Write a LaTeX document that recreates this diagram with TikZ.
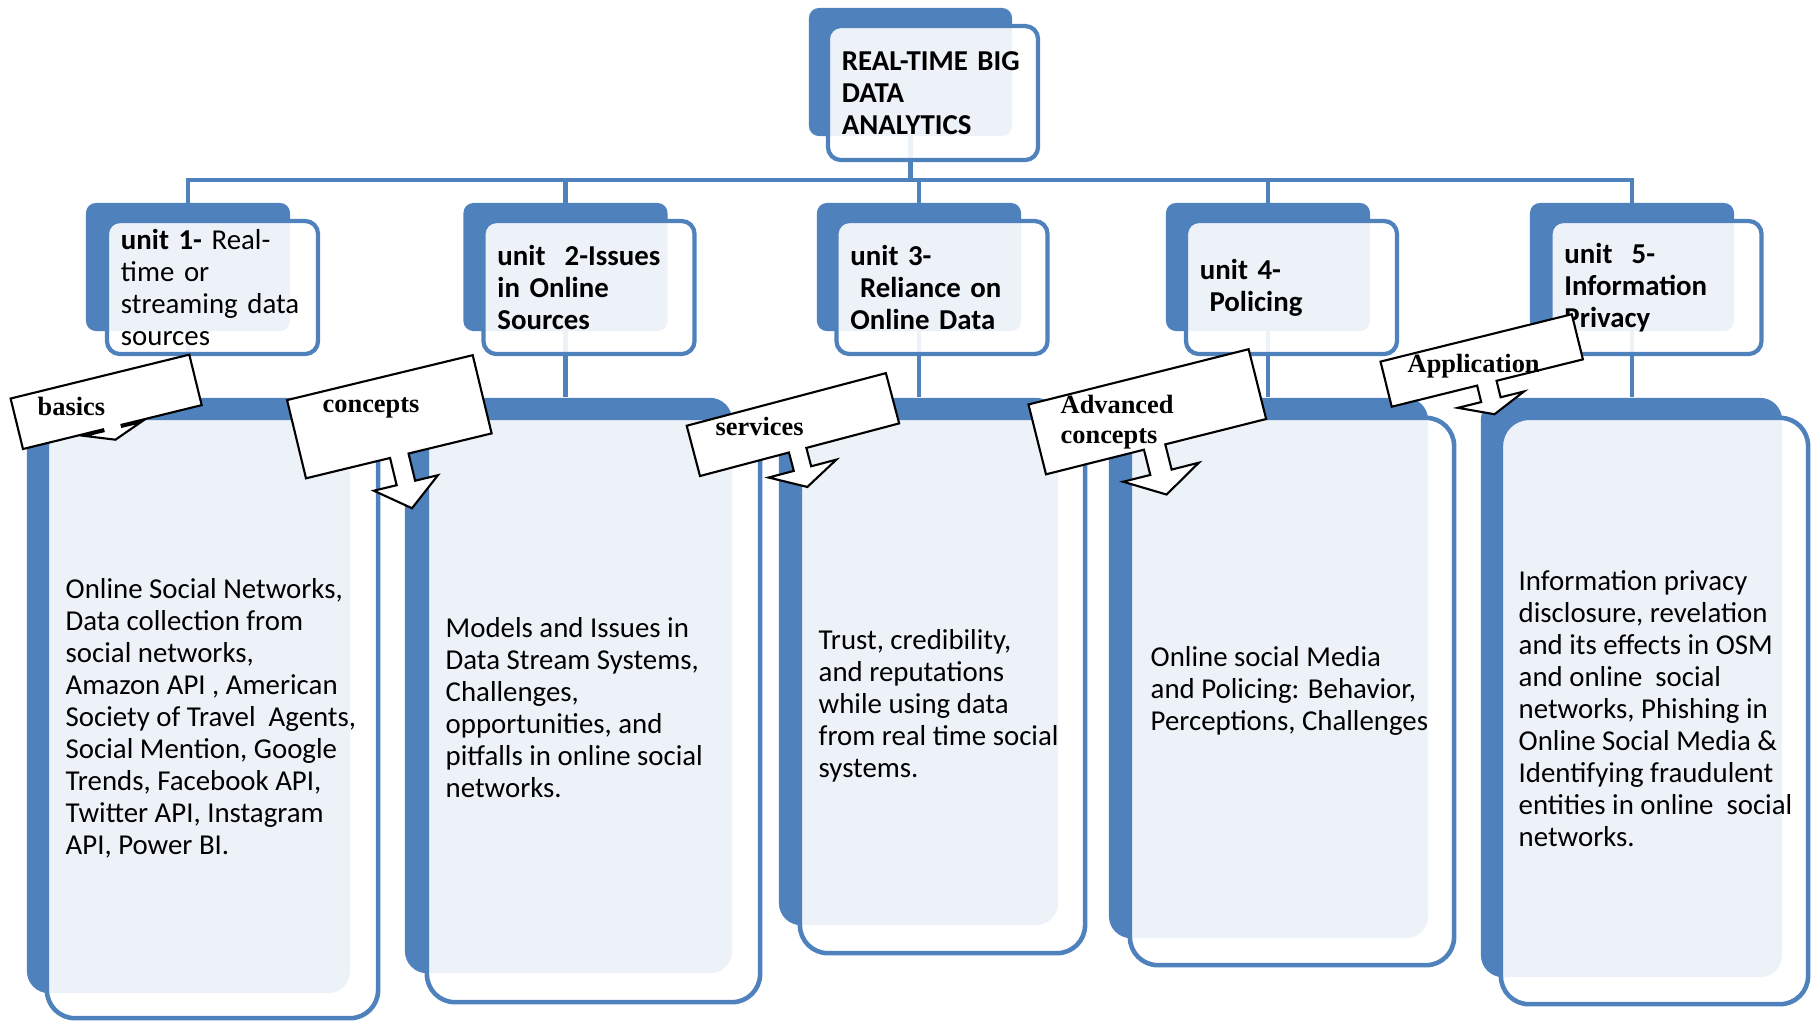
\documentclass[tikz,border=0pt]{standalone}
\usepackage{fontspec}
\setmainfont{Carlito}
\newfontfamily\labelfont{Liberation Serif}
\usetikzlibrary{backgrounds}

\definecolor{unitblue}{RGB}{79,129,189}
\newcommand{\unitfont}{\fontsize{8.2}{9.1}\selectfont}
\newcommand{\calloutfont}{\labelfont\bfseries\fontsize{7.5}{8.7}\selectfont}

% callout: placement, width, height, pointer x, shaft depth, head length, shaft width, head half width
\newcommand{\callbox}[8]{%
  \begin{scope}[#1]
    \draw[calloutline] (0,0) -- (0,-#3) -- (#2,-#3) -- (#2,0) -- ({#4+#7/2},0) -- ({#4+#7/2},#5)
      -- ({#4+#8},#5) -- (#4,{#5+#6}) -- ({#4-#8},#5) -- ({#4-#7/2},#5) -- ({#4-#7/2},0) -- cycle;
  \end{scope}}

\begin{document}
\begin{tikzpicture}[x=0.01cm, y=-0.01cm,
    link/.style={draw=unitblue, line width=1.2pt},
    backsmall/.style={fill=unitblue, rounded corners=0.1cm, inner sep=0pt},
    frontsmall/.style={draw=unitblue, line width=1.2pt, fill=white, fill opacity=0.9, text opacity=1,
      rounded corners=0.13cm, inner xsep=0.14cm, inner ysep=0pt, align=left, font=\unitfont\bfseries},
    backbig/.style={fill=unitblue, rounded corners=0.22cm, inner sep=0pt},
    frontbig/.style={draw=unitblue, line width=1.3pt, fill=white, fill opacity=0.9, rounded corners=0.28cm, inner sep=0pt},
    bodytext/.style={anchor=west, inner sep=0pt, align=left, font=\unitfont},
    calloutline/.style={draw=black, line width=0.6pt, fill=white},
    callouttext/.style={inner sep=0pt, font=\calloutfont}]

    \useasboundingbox (0,0) rectangle (1820,1020);

    % TITLE
    \node[backsmall, minimum width=2.03cm, minimum height=1.28cm] (titleback) at (910.5,72) {};
    \node[frontsmall, text width=1.82cm, minimum height=1.34cm] (title) at (933,93) {REAL-TIME BIG\\DATA\\ANALYTICS};

    % UNITS
    \node[backsmall, minimum width=2.04cm, minimum height=1.28cm] (unit1back) at (188,267) {};
    \node[frontsmall, text width=1.83cm, minimum height=1.33cm, font=\unitfont] (unit1) at (212.5,287.5) {\textbf{unit 1-} Real-\\time or\\streaming data\\sources};

    \node[backsmall, minimum width=2.04cm, minimum height=1.28cm] (unit2back) at (565.5,267) {};
    \node[frontsmall, text width=1.83cm, minimum height=1.33cm] (unit2) at (589,287.5) {unit\ \ 2-Issues\\in Online\\Sources};

    \node[backsmall, minimum width=2.04cm, minimum height=1.28cm] (unit3back) at (919,267) {};
    \node[frontsmall, text width=1.83cm, minimum height=1.33cm] (unit3) at (942,287.5) {unit 3-\\\ Reliance on\\Online Data};

    \node[backsmall, minimum width=2.04cm, minimum height=1.28cm] (unit4back) at (1268,267) {};
    \node[frontsmall, text width=1.83cm, minimum height=1.33cm] (unit4) at (1291.5,287.5) {unit 4-\\\ Policing};

    \node[backsmall, minimum width=2.04cm, minimum height=1.28cm] (unit5back) at (1632,267) {};
    \node[frontsmall, text width=1.83cm, minimum height=1.33cm] (unit5) at (1656,287.5) {unit\ \ 5-\\Information\\Privacy};

    % TOPICS
    \node[backbig, minimum width=3.23cm, minimum height=5.95cm] (topic1back) at (188.5,695.5) {};
    \node[frontbig, minimum width=3.31cm, minimum height=6.00cm] (topic1) at (212.5,718) {};
    \node[bodytext] (topic1text) at (65,718) {Online Social Networks,\\Data collection from\\social networks,\\Amazon API , American\\Society of Travel\ \ Agents,\\Social Mention, Google\\Trends, Facebook API,\\Twitter API, Instagram\\API, Power BI.};

    \node[backbig, minimum width=3.27cm, minimum height=5.75cm] (topic2back) at (568.5,685.5) {};
    \node[frontbig, minimum width=3.33cm, minimum height=5.84cm] (topic2) at (593.5,710) {};
    \node[bodytext] (topic2text) at (445,708) {Models and Issues in\\Data Stream Systems,\\Challenges,\\opportunities, and\\pitfalls in online social\\networks.};

    \node[backbig, minimum width=2.79cm, minimum height=5.27cm] (topic3back) at (918.5,661.5) {};
    \node[frontbig, minimum width=2.85cm, minimum height=5.35cm] (topic3) at (942.5,685.5) {};
    \node[bodytext] (topic3text) at (818,706) {Trust, credibility,\\and reputations\\while using data\\from real time social\\systems.};

    \node[backbig, minimum width=3.19cm, minimum height=5.40cm] (topic4back) at (1268.5,668) {};
    \node[frontbig, minimum width=3.24cm, minimum height=5.47cm] (topic4) at (1292,691.5) {};
    \node[bodytext] (topic4text) at (1150,691) {Online social Media\\and Policing: Behavior,\\Perceptions, Challenges};

    \node[backbig, minimum width=3.01cm, minimum height=5.79cm] (topic5back) at (1631.5,687.5) {};
    \node[frontbig, minimum width=3.07cm, minimum height=5.86cm] (topic5) at (1654.5,711) {};
    \node[bodytext] (topic5text) at (1518,709) {Information privacy\\disclosure, revelation\\and its effects in OSM\\and online\ \ social\\networks, Phishing in\\Online Social Media \&\\Identifying fraudulent\\entities in online\ \ social\\networks.};

    % TREE LINES
    \begin{scope}[on background layer]
        \coordinate (bus) at (910.5,180);
        \draw[link] (titleback.center) -- (bus);
        \draw[link] (unit1back.center) |- (bus) -| (unit5back.center);
        \foreach \u in {2,3,4}
            \draw[link] (unit\u back.center) -- (unit\u back.center |- bus);
        \foreach \u in {1,...,5}
            \draw[link] (unit\u back.center) -- (unit\u back.center |- topic\u back.north);
    \end{scope}

    % CALLOUTS
    \callbox{shift={(23,449)}, rotate=13.8}{184}{52}{92}{2}{11}{19}{29}
    \node[callouttext, anchor=base west] (basics) at (37,415) {basics};

    \callbox{shift={(306,478.3)}, rotate=13.6}{191}{80.5}{96}{28}{26}{19}{33}
    \node[callouttext, anchor=base west] (concepts) at (322,412) {concepts};

    \callbox{shift={(700,476)}, rotate=14.8}{206}{52}{101}{19}{19}{18}{35}
    \node[callouttext, anchor=base west] (services) at (715,435) {services};

    \callbox{shift={(1046,474.3)}, rotate=14.1}{227}{72}{112}{26}{23}{22}{39}
    \node[callouttext, anchor=north west, align=left] (advanced) at (1060,394) {Advanced\\concepts};

    \callbox{shift={(1391.7,406.7)}, rotate=13.9}{197}{46.5}{98}{17}{15}{20}{34}
    \node[callouttext, anchor=base west] (application) at (1407,372) {Application};

\end{tikzpicture}
\end{document}
